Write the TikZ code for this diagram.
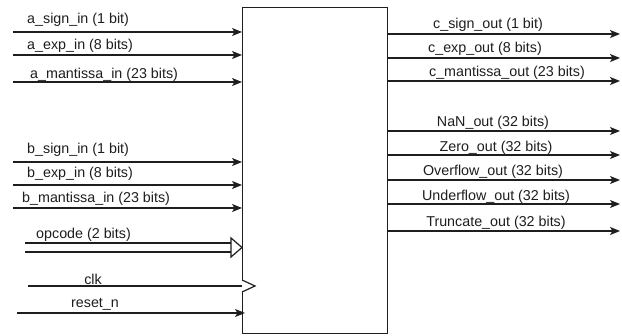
\documentclass[tikz,border=0pt]{standalone}
\usepackage{fontspec}
\setmainfont{Liberation Sans}
\usetikzlibrary{arrows.meta}
\definecolor{ink}{HTML}{1E1E1E}
\begin{document}
\begin{tikzpicture}[x=1pt,y=-1pt,
  wire/.style={draw=ink,line width=1.4pt},
  sig/.style={wire,-{Stealth[length=10pt,width=8pt,inset=2.5pt]}},
  lbl/.style={inner sep=0pt,text=ink,font=\fontsize{14.3}{16}\selectfont},
  hollow/.style={draw=ink,line width=1.2pt,fill=white,line join=miter}]
\useasboundingbox (0,0) rectangle (622,336);
\fill[white] (0,0) rectangle (622,336);

% functional unit body
\node[draw=ink,line width=1.4pt,minimum width=145pt,minimum height=326pt,
      inner sep=0pt,anchor=north west] (core) at (242,7) {};

% operand A inputs
\coordinate (asign) at (13,32);
\coordinate (aexp)  at (13,55);
\coordinate (aman)  at (13,82);
\draw[sig] (asign) -- (asign -| core.west);
\draw[sig] (aexp)  -- (aexp -| core.west);
\draw[sig] (aman)  -- (aman -| core.west);
\node[lbl,anchor=west] (lasign) at (27,20) {a\_sign\_in (1 bit)};
\node[lbl,anchor=west] (laexp)  at (27,46) {a\_exp\_in (8 bits)};
\node[lbl,anchor=west] (laman)  at (30,75) {a\_mantissa\_in (23 bits)};

% operand B inputs
\coordinate (bsign) at (13,162);
\coordinate (bexp)  at (13,185);
\coordinate (bman)  at (13,208);
\draw[sig] (bsign) -- (bsign -| core.west);
\draw[sig] (bexp)  -- (bexp -| core.west);
\draw[sig] (bman)  -- (bman -| core.west);
\node[lbl,anchor=west] (lbsign) at (27,150) {b\_sign\_in (1 bit)};
\node[lbl,anchor=west] (lbexp)  at (27,174) {b\_exp\_in (8 bits)};
\node[lbl,anchor=west] (lbman)  at (22,199) {b\_mantissa\_in (23 bits)};

% opcode bus (double line, open head)
\coordinate (opA) at (25,243);
\coordinate (opB) at (25,252);
\coordinate (ophead) at (231,247.5);
\draw[wire] (opA) -- (opA -| ophead);
\draw[wire] (opB) -- (opB -| ophead);
\draw[hollow] ([yshift=-9.5pt]ophead) -- (ophead -| core.west) -- ([yshift=9.5pt]ophead) -- cycle;
\node[lbl,anchor=west] (lop) at (36,235) {opcode (2 bits)};

% clock input with edge marker
\coordinate (clk) at (28,286);
\draw[wire] (clk) -- (clk -| core.west);
\draw[hollow] ([yshift=-6pt]clk -| core.west) -- ([xshift=13pt]clk -| core.west) -- ([yshift=6pt]clk -| core.west);
\node[lbl] (lclk) at (93,279) {clk};

% reset
\coordinate (rst) at (17,313);
\draw[sig] (rst) -- ([xshift=3pt]rst -| core.west);
\node[lbl] (lrst) at (95,304) {reset\_n};

% result outputs
\coordinate (csign) at (620,34);
\coordinate (cexp)  at (620,58);
\coordinate (cman)  at (620,81);
\draw[sig] (csign -| core.east) -- (csign);
\draw[sig] (cexp -| core.east)  -- (cexp);
\draw[sig] (cman -| core.east)  -- (cman);
\node[lbl] (lcsign) at (488,25) {c\_sign\_out (1 bit)};
\node[lbl] (lcexp)  at (485,49) {c\_exp\_out (8 bits)};
\node[lbl] (lcman)  at (507,73) {c\_mantissa\_out (23 bits)};

% status flag outputs
\coordinate (nan)  at (620,131);
\coordinate (zero) at (620,155);
\coordinate (ovf)  at (620,180);
\coordinate (unf)  at (620,204);
\coordinate (trc)  at (620,231);
\draw[sig] (nan -| core.east)  -- (nan);
\draw[sig] (zero -| core.east) -- (zero);
\draw[sig] (ovf -| core.east)  -- (ovf);
\draw[sig] (unf -| core.east)  -- (unf);
\draw[sig] (trc -| core.east)  -- (trc);
\node[lbl] (lnan)  at (493,123) {NaN\_out (32 bits)};
\node[lbl] (lzero) at (496,148) {Zero\_out (32 bits)};
\node[lbl] (lovf)  at (493,172) {Overflow\_out (32 bits)};
\node[lbl] (lunf)  at (496,197) {Underflow\_out (32 bits)};
\node[lbl] (ltrc)  at (496,223) {Truncate\_out (32 bits)};
\end{tikzpicture}
\end{document}
